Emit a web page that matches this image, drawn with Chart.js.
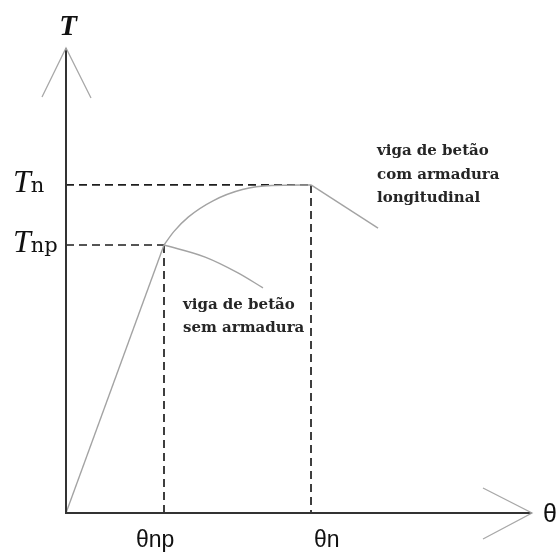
<!DOCTYPE html>
<html>
<head>
<meta charset="utf-8">
<script src="https://cdn.jsdelivr.net/npm/chart.js@4.4.0/dist/chart.umd.min.js"></script>
<style>
  html, body { margin: 0; padding: 0; background: #fff; }
  canvas { display: block; }
</style>
</head>
<body>
<canvas id="torsao" width="560" height="553"></canvas>
<script>
// reference levels (rotation theta, torque T)
const xTicks = [1, 2.5];
const xTickLabels = ['θnp', 'θn'];
const yTicks = [1, 1.224];
const yTickLabels = ['Tnp', 'Tn'];

// elastic branch, shared by both beams
const elastic = [[0, 0], [1, 1]];
// beam with longitudinal reinforcement
const comArmadura = [[1, 1], [1.1, 1.05], [1.25, 1.105], [1.5, 1.165], [1.8, 1.207], [2.1, 1.222], [2.5, 1.224]];
const comQueda = [[2.5, 1.224], [3.184, 1.063]];
// plain concrete beam
const semArmadura = [[1, 1], [1.42, 0.955], [1.755, 0.896], [2.01, 0.84]];

const xMax = 4.755, yMax = 1.735;

const pts = a => a.map(p => ({ x: p[0], y: p[1] }));
const curve = (data, tension) => ({
  data: pts(data), showLine: true, pointRadius: 0, borderColor: '#a3a3a3',
  borderWidth: 1.4, tension: tension, cubicInterpolationMode: 'monotone'
});
const dashed = data => ({
  data: pts(data), showLine: true, pointRadius: 0, borderColor: '#1e1e1e',
  borderWidth: 1.7, borderDash: [8, 5], tension: 0
});

// guide lines down to each axis
const guides = [];
xTicks.forEach((x, i) => {
  const y = yTicks[i];
  guides.push(dashed([[0, y], [x, y]]));
  guides.push(dashed([[x, y], [x, 0]]));
});

// axes, arrow heads and labels
const axesPlugin = {
  id: 'axes',
  afterDatasetsDraw(chart) {
    const { ctx, chartArea: a, scales } = chart;
    const x0 = scales.x.getPixelForValue(0), y0 = scales.y.getPixelForValue(0);
    ctx.save();
    ctx.strokeStyle = '#333';
    ctx.lineWidth = 2;
    ctx.beginPath();
    ctx.moveTo(x0, a.top); ctx.lineTo(x0, y0); ctx.lineTo(a.right, y0);
    ctx.stroke();

    ctx.strokeStyle = '#a8a8a8';
    ctx.lineWidth = 1.3;
    ctx.beginPath();
    ctx.moveTo(x0 - 24, a.top + 49); ctx.lineTo(x0, a.top); ctx.lineTo(x0 + 25, a.top + 50);
    ctx.moveTo(a.right - 49, y0 - 25); ctx.lineTo(a.right, y0); ctx.lineTo(a.right - 49, y0 + 26);
    ctx.stroke();

    ctx.fillStyle = '#111';
    ctx.textBaseline = 'alphabetic';
    // axis names
    ctx.font = 'italic bold 29px "Liberation Serif"';
    ctx.textAlign = 'center';
    ctx.fillText('T', x0 + 2, a.top - 13);
    ctx.font = '25px "Liberation Sans"';
    ctx.textAlign = 'left';
    ctx.fillText('θ', a.right + 11, y0 + 9);

    // y levels: italic T with roman subscript
    yTicks.forEach((v, i) => {
      const py = scales.y.getPixelForValue(v);
      const lab = yTickLabels[i];
      ctx.font = 'italic 32px "Liberation Serif"';
      const w = ctx.measureText(lab[0]).width;
      ctx.fillText(lab[0], 13, py + 7);
      ctx.font = '21px "DejaVu Serif"';
      ctx.fillText(lab.slice(1), 13 + w, py + 7);
    });

    // x levels
    ctx.font = '23px "Liberation Sans"';
    const shift = [-28, 3];
    xTicks.forEach((v, i) => {
      const px = scales.x.getPixelForValue(v);
      ctx.fillText(xTickLabels[i], px + shift[i], y0 + 34);
    });

    // beam annotations
    ctx.font = 'bold 15px "DejaVu Serif"';
    ctx.fillStyle = '#262626';
    ['viga de betão', 'com armadura', 'longitudinal'].forEach((t, i) => {
      ctx.fillText(t, 377, 155 + i * 23.5);
    });
    ['viga de betão', 'sem armadura'].forEach((t, i) => {
      ctx.fillText(t, 183, 309 + i * 23);
    });
    ctx.restore();
  }
};

new Chart(document.getElementById('torsao'), {
  type: 'scatter',
  data: {
    datasets: [
      curve(elastic, 0),
      curve(comArmadura, 0.4),
      curve(comQueda, 0),
      curve(semArmadura, 0.4),
      ...guides
    ]
  },
  options: {
    responsive: false,
    animation: false,
    layout: { padding: { left: 66, right: 28, top: 48, bottom: 40 } },
    plugins: { legend: { display: false }, tooltip: { enabled: false } },
    scales: {
      x: { type: 'linear', display: false, min: 0, max: xMax },
      y: { type: 'linear', display: false, min: 0, max: yMax }
    }
  },
  plugins: [axesPlugin]
});
</script>
</body>
</html>
